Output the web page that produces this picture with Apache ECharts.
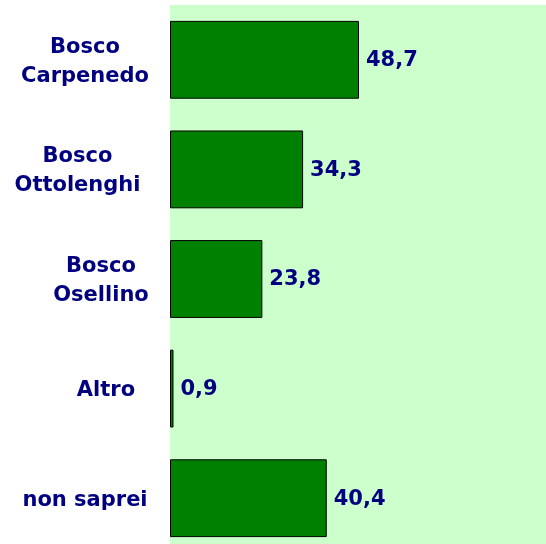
<!DOCTYPE html>
<html><head><meta charset="utf-8">
<script src="https://cdn.jsdelivr.net/npm/echarts@6/dist/echarts.min.js"></script>
<style>html,body{margin:0;padding:0;background:#fff}#c{width:546px;height:544px}</style>
</head><body><div id="c"></div>
<script>
const categories = ['Bosco\nCarpenedo', 'Bosco\nOttolenghi', 'Bosco\nOsellino', 'Altro', 'non saprei'];
const values = [48.7, 34.3, 23.8, 0.9, 40.4];
const labelBoxWidth = [154, 169, 122, 112, 154];

const chart = echarts.init(document.getElementById('c'), null, {renderer: 'canvas'});
const font = 'Verdana, "DejaVu Sans", sans-serif';
const rich = {};
labelBoxWidth.forEach((w, i) => {
  rich['l' + i] = {width: w, align: 'center', color: '#000080', fontWeight: 'bold', fontSize: 21, lineHeight: 29, fontFamily: font};
});
chart.setOption({
  animation: false,
  grid: {left: 170, top: 5, width: 388, height: 548, show: true, backgroundColor: '#CCFFCC', borderWidth: 0,
    containLabel: false, outerBoundsMode: 'none'},
  xAxis: {type: 'value', min: 0, max: 100, show: false},
  yAxis: {
    type: 'category', inverse: true,
    data: categories,
    axisLine: {show: false}, axisTick: {show: false}, splitLine: {show: false},
    axisLabel: {align: 'right', margin: 8, padding: [4, 0, 0, 0], color: '#000080', fontWeight: 'bold', fontSize: 21, lineHeight: 29, fontFamily: font,
      formatter: (v, i) => v.split('\n').map(s => '{l' + i + '|' + s + '}').join('\n'), rich: rich}
  },
  series: [{
    type: 'bar', data: values, barCategoryGap: '29%',
    itemStyle: {color: '#008000', borderColor: '#000', borderWidth: 1},
    label: {show: true, position: 'right', distance: 7, offset: [0, 1], color: '#000080', fontWeight: 'bold', fontSize: 21, fontFamily: font,
      formatter: p => String(p.value).replace('.', ',')}
  }]
});
</script></body></html>
